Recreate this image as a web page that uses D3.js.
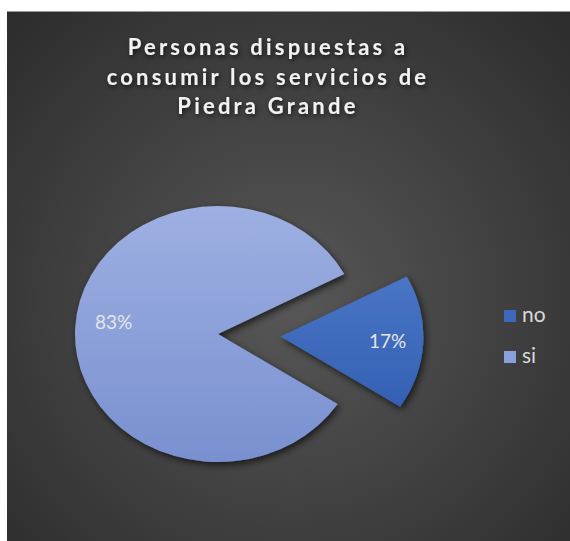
<!DOCTYPE html>
<html>
<head>
<meta charset="utf-8">
<script src="https://cdn.jsdelivr.net/npm/d3@7"></script>
<style>
html,body{margin:0;padding:0;background:#fff;}
svg{display:block;}
</style>
</head>
<body>
<svg id="chart" width="570" height="541"></svg>
<script>
const categories = ["no", "si"];
const values = [17, 83];
const labels = ["17%", "83%"];
const titleLines = ["Personas dispuestas a", "consumir los servicios de", "Piedra Grande"];

const W = 570, H = 541;
const svg = d3.select("#chart");
const defs = svg.append("defs");

// background gradient
const bg = defs.append("radialGradient").attr("id", "bg")
  .attr("gradientUnits", "userSpaceOnUse")
  .attr("cx", 290).attr("cy", 300).attr("r", 400);
bg.append("stop").attr("offset", "0%").attr("stop-color", "#575757");
bg.append("stop").attr("offset", "100%").attr("stop-color", "#2c2c2c");

const gNo = defs.append("linearGradient").attr("id", "gNo")
  .attr("gradientUnits", "userSpaceOnUse").attr("x1", 0).attr("y1", -128).attr("x2", 0).attr("y2", 128);
gNo.append("stop").attr("offset", "0%").attr("stop-color", "#5580cf");
gNo.append("stop").attr("offset", "100%").attr("stop-color", "#2a57ab");
const gSi = defs.append("linearGradient").attr("id", "gSi")
  .attr("gradientUnits", "userSpaceOnUse").attr("x1", 0).attr("y1", -128).attr("x2", 0).attr("y2", 128);
gSi.append("stop").attr("offset", "0%").attr("stop-color", "#9eb0e2");
gSi.append("stop").attr("offset", "100%").attr("stop-color", "#7990d0");

const sh = defs.append("filter").attr("id", "shadow")
  .attr("x", "-30%").attr("y", "-30%").attr("width", "160%").attr("height", "160%");
sh.append("feDropShadow").attr("dx", 2).attr("dy", 3).attr("stdDeviation", 3.5)
  .attr("flood-color", "#000").attr("flood-opacity", 0.65);
const tsh = defs.append("filter").attr("id", "tshadow")
  .attr("x", "-10%").attr("y", "-50%").attr("width", "120%").attr("height", "200%");
tsh.append("feDropShadow").attr("dx", 1).attr("dy", 2).attr("stdDeviation", 2.5)
  .attr("flood-color", "#000").attr("flood-opacity", 0.7);

// chart area
svg.append("rect").attr("x", 7).attr("y", 11).attr("width", W - 7).attr("height", H - 11)
  .attr("fill", "url(#bg)");
svg.append("line").attr("x1", 7).attr("x2", W).attr("y1", 11.5).attr("y2", 11.5)
  .attr("stroke", "#9a9a9a").attr("stroke-width", 1);

// title
const title = svg.append("text")
  .attr("text-anchor", "middle")
  .attr("font-family", "Lato, 'Open Sans', sans-serif")
  .attr("font-weight", "bold")
  .attr("font-size", 22)
  .attr("letter-spacing", 3.2)
  .attr("fill", "#f2f2f2")
  .attr("filter", "url(#tshadow)");
titleLines.forEach((t, i) => {
  title.append("tspan").attr("x", 268).attr("y", 55 + i * 29.5).text(t);
});

// pie
const cx = 218, cy = 334, R = 128, sx = 143 / 128;
const deg = Math.PI / 180;
const pie = d3.pie().sort(null).value(d => d)
  .startAngle(62 * deg).endAngle(422 * deg);
const arcs = pie(values);
const arc = d3.arc().innerRadius(0).outerRadius(R);
const explode = [56, 0];
const fills = ["url(#gNo)", "url(#gSi)"];

const pg = svg.append("g").attr("transform", `translate(${cx},${cy}) scale(${sx},1)`);
arcs.forEach((a, i) => {
  const mid = (a.startAngle + a.endAngle) / 2;
  const ox = Math.sin(mid) * explode[i], oy = -Math.cos(mid) * explode[i];
  pg.append("path")
    .attr("transform", `translate(${ox},${oy})`)
    .attr("d", arc(a))
    .attr("fill", fills[i])
    .attr("filter", "url(#shadow)");
});

// data labels
const labelK = [0.75, 0.73];
arcs.forEach((a, i) => {
  const mid = (a.startAngle + a.endAngle) / 2;
  const r = explode[i] + R * labelK[i];
  const x = cx + Math.sin(mid) * r * sx;
  const y = cy - Math.cos(mid) * r;
  svg.append("text")
    .attr("x", x).attr("y", y + 7 - (i === 1 ? 8 : 0))
    .attr("text-anchor", "middle")
    .attr("font-family", "Lato, 'Open Sans', sans-serif")
    .attr("font-size", 19)
    .attr("fill", "#e6e6e6")
    .text(labels[i]);
});

// legend
const legendColors = ["#3e68bb", "#8aa0db"];
categories.forEach((c, i) => {
  const y = 316 + i * 41;
  svg.append("rect").attr("x", 504).attr("y", y - 6).attr("width", 12).attr("height", 12)
    .attr("fill", legendColors[i]);
  svg.append("text").attr("x", 522).attr("y", y + 6)
    .attr("font-family", "Lato, 'Open Sans', sans-serif")
    .attr("font-size", 21)
    .attr("fill", "#d9d9d9")
    .text(c);
});
</script>
</body>
</html>
